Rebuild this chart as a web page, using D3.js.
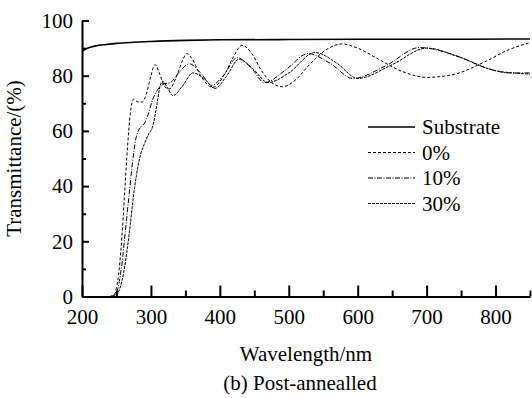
<!DOCTYPE html>
<html>
<head>
<meta charset="utf-8">
<script src="https://cdn.jsdelivr.net/npm/d3@7"></script>
</head>
<body style="margin:0">
<div id="chart"></div>
<script>
// series names and line styles (legend order)
var seriesNames = ["Substrate", "0%", "10%", "30%"];
var dashes = [null, "3,2", "5,1.5,1,1.5", "3,1"];

// Substrate
var wlSub = [200, 205, 212, 220, 235, 250, 275, 300, 350, 400, 500, 600, 700, 850];
var tSub  = [88.8, 89.6, 90.3, 90.8, 91.3, 91.7, 92.1, 92.4, 92.8, 93.0, 93.1, 93.2, 93.2, 93.3];

// 0%
var wl0 = [240, 246, 250, 254, 258, 262, 266, 270, 275, 281, 287, 293, 299, 306, 313, 320, 327, 336, 345, 352, 360, 372, 390, 408, 420, 432, 445, 460, 475, 491, 510, 530, 555, 577, 600, 630, 665, 700, 740, 780, 820, 850];
var t0  = [0, 0.5, 3, 10, 22, 38, 54, 66, 71.5, 70.5, 70.5, 73, 79, 84, 80.5, 76, 75.2, 79, 85, 88, 86, 80, 75.8, 81, 87, 91, 88.5, 82, 77.5, 76, 78.5, 84, 89.5, 91.5, 90, 86, 81.5, 79.4, 80.5, 84.5, 89.5, 92];

// 10%
var wl10 = [240, 248, 253, 258, 263, 268, 273, 278, 284, 290, 296, 302, 310, 318, 328, 340, 356, 372, 388, 405, 425, 445, 465, 495, 528, 560, 593, 640, 690, 740, 790, 820, 850];
var t10  = [0, 0.5, 4, 12, 24, 36, 48, 57, 61, 62.5, 66, 71, 75, 77, 77.5, 81, 84.3, 81, 76.5, 80, 86.5, 83, 77.5, 82, 88, 84.5, 79, 83.5, 90.2, 87.5, 82.5, 81, 81];

// 30%
var wl30 = [244, 250, 255, 260, 265, 270, 274, 279, 284, 290, 296, 303, 309, 313, 317, 323, 332, 345, 361, 377, 393, 410, 428, 448, 470, 500, 538, 570, 600, 650, 700, 750, 800, 825, 850];
var t30  = [0, 0.5, 3, 8, 16, 26, 35, 44, 50.5, 55, 58.5, 62, 70, 76, 78, 76, 72.8, 76, 81, 79, 75.4, 80, 86, 82.5, 77.5, 81, 88.4, 84.5, 79, 84, 90, 86.5, 81.8, 81, 80.6];

var xTicks = [200, 300, 400, 500, 600, 700, 800];
var xMinor = [250, 350, 450, 550, 650, 750, 850];
var yTicks = [0, 20, 40, 60, 80, 100];
var yMinor = [10, 30, 50, 70, 90];

var wls = [wlSub, wl0, wl10, wl30];
var ts = [tSub, t0, t10, t30];

var FONT = "Liberation Serif";

// dimensions
var margin = { top: 20.5, right: 2, bottom: 101.5, left: 82 },
    width = 532 - margin.left - margin.right,
    height = 398 - margin.top - margin.bottom;

var root = d3.select("#chart")
    .append("svg")
    .attr("width", 532)
    .attr("height", 398);

var svg = root.append("g")
    .attr("transform", "translate(" + margin.left + "," + margin.top + ")");

var x = d3.scaleLinear().domain([200, 850]).range([margin.left, margin.left + width]);
var y = d3.scaleLinear().domain([0, 100]).range([margin.top + height, margin.top]);

// curves
var line = d3.line()
    .x(function (d) { return x(d[0]) - margin.left; })
    .y(function (d) { return y(d[1]) - margin.top; })
    .curve(d3.curveMonotoneX);

seriesNames.forEach(function (name, i) {
    var pts = wls[i].map(function (w, j) { return [w, ts[i][j]]; });
    svg.append("path")
        .datum(pts)
        .attr("fill", "none")
        .attr("stroke", "#000")
        .attr("stroke-width", i === 0 ? 1.6 : 1)
        .attr("stroke-dasharray", dashes[i])
        .attr("d", line);
});

// X axis (ticks point inward)
root.append("g")
    .attr("transform", "translate(0," + (margin.top + height) + ")")
    .call(d3.axisBottom(x).tickValues(xTicks).tickSizeInner(-11).tickSizeOuter(0).tickPadding(13));
root.append("g")
    .attr("transform", "translate(0," + (margin.top + height) + ")")
    .call(d3.axisBottom(x).tickValues(xMinor).tickSizeInner(-6).tickSizeOuter(0).tickFormat(""))
    .select(".domain").remove();

// Y axis
root.append("g")
    .attr("transform", "translate(" + margin.left + ",0)")
    .call(d3.axisLeft(y).tickValues(yTicks).tickSizeInner(-7).tickSizeOuter(0).tickPadding(9));
root.append("g")
    .attr("transform", "translate(" + margin.left + ",0)")
    .call(d3.axisLeft(y).tickValues(yMinor).tickSizeInner(-4).tickSizeOuter(0).tickFormat(""))
    .select(".domain").remove();

root.selectAll(".domain").attr("stroke-width", 2);
root.selectAll(".tick line").attr("stroke-width", 2);

// axis labels, placed straight in the svg
root.append("text")
    .attr("text-anchor", "middle")
    .attr("x", margin.left + width / 2)
    .attr("y", margin.top + height + 64)
    .text("Wavelength/nm");

root.append("text")
    .attr("text-anchor", "middle")
    .attr("transform", "translate(" + (margin.left - 61) + "," + (margin.top + height / 2) + ") rotate(-90)")
    .text("Transmittance/(%)");

root.append("text")
    .attr("text-anchor", "middle")
    .attr("x", margin.left + width / 2 - 6)
    .attr("y", margin.top + height + 93)
    .text("(b) Post-annealled");

// legend
seriesNames.forEach(function (name, i) {
    var ly = 127 + i * 25.5;
    root.append("line")
        .attr("x1", 368).attr("x2", 415)
        .attr("y1", ly).attr("y2", ly)
        .attr("stroke", "#000")
        .attr("stroke-width", i === 0 ? 1.6 : 1)
        .attr("stroke-dasharray", dashes[i]);
    root.append("text")
        .attr("x", 422)
        .attr("y", ly + 7)
        .text(name);
});

// one font for every text
root.selectAll("text")
    .attr("font-family", FONT)
    .attr("font-size", 21)
    .attr("fill", "#000")
    .style("font-family", FONT, "important")
    .style("font-size", "21px", "important");
root.selectAll("g").attr("font-family", FONT);
</script>
</body>
</html>
